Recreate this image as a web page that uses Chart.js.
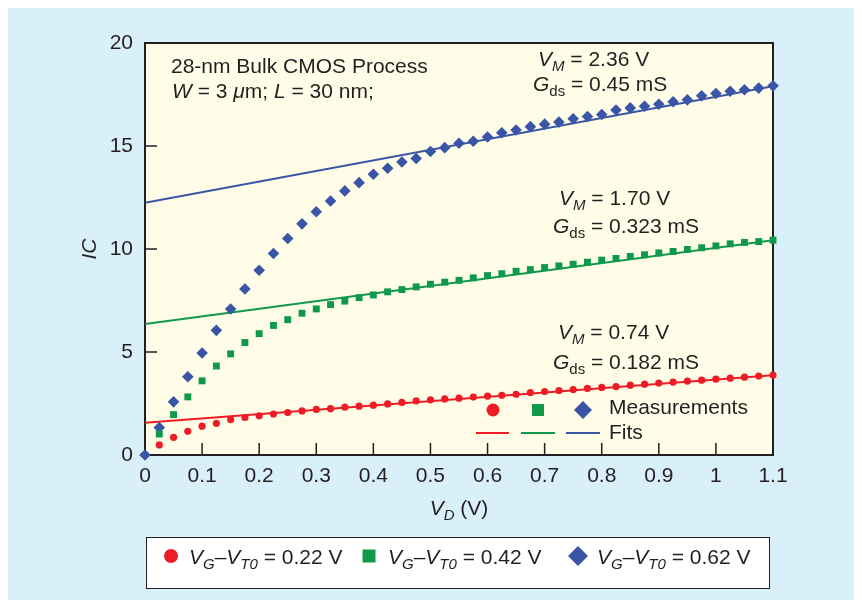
<!DOCTYPE html>
<html lang="en">
<head>
<meta charset="UTF-8">
<title>IC vs VD, 28-nm bulk CMOS</title>
<script src="https://cdn.jsdelivr.net/npm/chart.js"></script>
<style>
  html, body { margin: 0; padding: 0; background: #fff; }
  .wrap { position: relative; width: 862px; height: 608px; }
</style>
</head>
<body>
<div class="wrap"><canvas id="icChart"></canvas></div>
<script>
// drain voltage steps (V)
const vd = [0, 0.025, 0.05, 0.075, 0.1, 0.125, 0.15, 0.175, 0.2, 0.225, 0.25, 0.275, 0.3, 0.325,
  0.35, 0.375, 0.4, 0.425, 0.45, 0.475, 0.5, 0.525, 0.55, 0.575, 0.6, 0.625, 0.65, 0.675, 0.7,
  0.725, 0.75, 0.775, 0.8, 0.825, 0.85, 0.875, 0.9, 0.925, 0.95, 0.975, 1.0, 1.025, 1.05, 1.075, 1.1];

// measurements: red & green start at 0.025, blue at 0
const ic022 = [0.49, 0.86, 1.15, 1.40, 1.54, 1.72, 1.82, 1.90, 1.99, 2.06, 2.14, 2.21, 2.25, 2.32,
  2.37, 2.42, 2.48, 2.55, 2.63, 2.68, 2.72, 2.76, 2.81, 2.86, 2.90, 2.95, 3.03, 3.08, 3.13, 3.18,
  3.23, 3.28, 3.32, 3.39, 3.44, 3.49, 3.54, 3.59, 3.63, 3.68, 3.73, 3.78, 3.83, 3.88];
const ic042 = [1.02, 1.96, 2.82, 3.60, 4.32, 4.91, 5.46, 5.89, 6.29, 6.57, 6.88, 7.09, 7.30, 7.47,
  7.64, 7.77, 7.92, 8.03, 8.16, 8.29, 8.39, 8.48, 8.60, 8.71, 8.80, 8.92, 9.00, 9.10, 9.18, 9.26,
  9.36, 9.46, 9.54, 9.64, 9.72, 9.81, 9.88, 9.98, 10.06, 10.15, 10.25, 10.32, 10.36, 10.43];
const ic062 = [0, 1.33, 2.58, 3.80, 4.95, 6.05, 7.09, 8.06, 8.97, 9.78, 10.51, 11.22, 11.81, 12.33,
  12.82, 13.22, 13.63, 13.92, 14.22, 14.39, 14.73, 14.92, 15.13, 15.23, 15.44, 15.64, 15.78, 15.94,
  16.06, 16.16, 16.32, 16.43, 16.53, 16.75, 16.85, 16.93, 17.03, 17.15, 17.24, 17.44, 17.55, 17.66,
  17.73, 17.81, 17.92];

// fitted lines (end points)
const fitX = [0, 1.1];
const fit022 = [1.57, 3.87];
const fit042 = [6.36, 10.42];
const fit062 = [12.25, 17.9];

const xTickLabels = ['0', '0.1', '0.2', '0.3', '0.4', '0.5', '0.6', '0.7', '0.8', '0.9', '1', '1.1'];
const yTickLabels = ['0', '5', '10', '15', '20'];

const RED = '#ee1c25', GREEN = '#10994b', BLUE = '#3a55a5';
const INK = '#231f20';
const FONT = '"Liberation Sans", Arial, Helvetica, sans-serif';

function pts(xs, ys) {
  return ys.map((y, i) => ({ x: xs[i], y: y }));
}

// text with italics / subscripts, at baseline y
function drawRuns(ctx, runs, x, y, align) {
  const fontFor = s => (s.includes('i') ? 'italic ' : '') + (s.includes('s') ? 15 : 21) + 'px ' + FONT;
  let w = 0;
  runs.forEach(([t, s]) => { ctx.font = fontFor(s); w += ctx.measureText(t).width; });
  if (align === 'center') x -= w / 2;
  ctx.textAlign = 'left';
  ctx.textBaseline = 'alphabetic';
  runs.forEach(([t, s]) => {
    ctx.font = fontFor(s);
    ctx.fillText(t, x, y + (s.includes('s') ? 5 : 0));
    x += ctx.measureText(t).width;
  });
}

function marker(ctx, kind, x, y, r, color) {
  ctx.fillStyle = color;
  ctx.beginPath();
  if (kind === 'circle') ctx.arc(x, y, r, 0, Math.PI * 2);
  else if (kind === 'square') ctx.rect(x - r, y - r, 2 * r, 2 * r);
  else { ctx.moveTo(x - r, y); ctx.lineTo(x, y - r); ctx.lineTo(x + r, y); ctx.lineTo(x, y + r); ctx.closePath(); }
  ctx.fill();
}

const decor = {
  id: 'decor',
  beforeDraw(chart) {
    const ctx = chart.ctx, a = chart.chartArea;
    ctx.save();
    ctx.fillStyle = '#ffffff';
    ctx.fillRect(0, 0, chart.width, chart.height);
    ctx.fillStyle = '#d9eff9';
    ctx.fillRect(8, 8, 846, 592);
    ctx.fillStyle = '#fffde8';
    ctx.fillRect(a.left, a.top, a.right - a.left, a.bottom - a.top);
    ctx.restore();
  },
  beforeDatasetsDraw(chart) {
    const ctx = chart.ctx, a = chart.chartArea;
    const xs = chart.scales.x, ys = chart.scales.y;
    ctx.save();
    ctx.strokeStyle = INK;
    ctx.lineWidth = 1.5;
    ctx.beginPath();
    xs.ticks.forEach(t => {
      const px = xs.getPixelForValue(t.value);
      ctx.moveTo(px, a.bottom);
      ctx.lineTo(px, a.bottom - 12);
    });
    ys.ticks.forEach(t => {
      const py = ys.getPixelForValue(t.value);
      ctx.moveTo(a.left, py);
      ctx.lineTo(a.left + 12, py);
    });
    ctx.stroke();
    ctx.lineWidth = 2;
    ctx.strokeRect(a.left, a.top, a.right - a.left, a.bottom - a.top);
    ctx.restore();
  },
  afterDraw(chart) {
    const ctx = chart.ctx, a = chart.chartArea;
    ctx.save();
    ctx.fillStyle = INK;

    // axis titles
    drawRuns(ctx, [['V', 'i'], ['D', 'si'], [' (V)', '']], (a.left + a.right) / 2, 515, 'center');
    ctx.save();
    ctx.translate(96, (a.top + a.bottom) / 2);
    ctx.rotate(-Math.PI / 2);
    drawRuns(ctx, [['IC', 'i']], 0, 0, 'center');
    ctx.restore();

    // notes inside the plot
    drawRuns(ctx, [['28-nm Bulk CMOS Process', '']], 171, 73);
    drawRuns(ctx, [['W', 'i'], [' = 3 ', ''], ['\u03bc', 'i'], ['m; ', ''], ['L', 'i'], [' = 30 nm;', '']], 172, 98);

    drawRuns(ctx, [['V', 'i'], ['M', 'si'], [' = 2.36 V', '']], 538, 66);
    drawRuns(ctx, [['G', 'i'], ['ds', 's'], [' = 0.45 mS', '']], 533, 91);
    drawRuns(ctx, [['V', 'i'], ['M', 'si'], [' = 1.70 V', '']], 559, 205);
    drawRuns(ctx, [['G', 'i'], ['ds', 's'], [' = 0.323 mS', '']], 553, 233);
    drawRuns(ctx, [['V', 'i'], ['M', 'si'], [' = 0.74 V', '']], 558, 339);
    drawRuns(ctx, [['G', 'i'], ['ds', 's'], [' = 0.182 mS', '']], 553, 369);

    // inner key: measurements / fits
    marker(ctx, 'circle', 493, 410, 6.5, RED);
    marker(ctx, 'square', 538, 410, 6, GREEN);
    marker(ctx, 'diamond', 583, 410, 9, BLUE);
    ctx.lineWidth = 2;
    [[476, 509, RED], [521, 555, GREEN], [566, 600, BLUE]].forEach(([x1, x2, c]) => {
      ctx.strokeStyle = c;
      ctx.beginPath();
      ctx.moveTo(x1, 433);
      ctx.lineTo(x2, 433);
      ctx.stroke();
    });
    ctx.fillStyle = INK;
    drawRuns(ctx, [['Measurements', '']], 609, 414);
    drawRuns(ctx, [['Fits', '']], 609, 439);

    // bottom legend box
    ctx.fillStyle = '#ffffff';
    ctx.fillRect(146, 537, 623, 51);
    ctx.strokeStyle = INK;
    ctx.lineWidth = 1;
    ctx.strokeRect(146.5, 537.5, 623, 51);
    const items = [['circle', 171, 7, RED, '0.22', 189], ['square', 369, 6.5, GREEN, '0.42', 388], ['diamond', 578, 10, BLUE, '0.62', 597]];
    items.forEach(([k, mx, r, c, v, tx]) => {
      marker(ctx, k, mx, 556, r, c);
      ctx.fillStyle = INK;
      drawRuns(ctx, [['V', 'i'], ['G', 'si'], ['\u2013', ''], ['V', 'i'], ['T0', 'si'], [' = ' + v + ' V', '']], tx, 564);
    });
    ctx.restore();
  }
};

const tickFont = { family: FONT, size: 21 };

new Chart(document.getElementById('icChart'), {
  type: 'scatter',
  data: {
    datasets: [
      { label: 'VG-VT0 = 0.22 V', data: pts(vd.slice(1), ic022), pointStyle: 'circle', pointRadius: 3.6,
        backgroundColor: RED, borderWidth: 0, clip: false, order: 1 },
      { label: 'VG-VT0 = 0.42 V', data: pts(vd.slice(1), ic042), pointStyle: 'rect', pointRadius: 4.9,
        backgroundColor: GREEN, borderWidth: 0, clip: false, order: 1 },
      { label: 'VG-VT0 = 0.62 V', data: pts(vd, ic062), pointStyle: 'rectRot', pointRadius: 5.8,
        backgroundColor: BLUE, borderWidth: 0, clip: false, order: 1 },
      { label: 'fit 0.22', data: pts(fitX, fit022), showLine: true, pointRadius: 0, borderColor: RED, borderWidth: 2, order: 2 },
      { label: 'fit 0.42', data: pts(fitX, fit042), showLine: true, pointRadius: 0, borderColor: GREEN, borderWidth: 2, order: 2 },
      { label: 'fit 0.62', data: pts(fitX, fit062), showLine: true, pointRadius: 0, borderColor: BLUE, borderWidth: 2, order: 2 }
    ]
  },
  options: {
    responsive: true,
    maintainAspectRatio: false,
    animation: false,
    layout: { padding: { left: 0, top: 43, right: 89, bottom: 0 } },
    plugins: { legend: { display: false }, tooltip: { enabled: false } },
    scales: {
      x: {
        type: 'linear', min: 0, max: 1.1,
        afterFit: s => { s.height = 153; },
        grid: { display: false, drawTicks: false },
        border: { display: false },
        ticks: { stepSize: 0.1, padding: 9, color: INK, font: tickFont, maxRotation: 0, autoSkip: false,
          callback: (v, i) => xTickLabels[i] }
      },
      y: {
        type: 'linear', min: 0, max: 20,
        afterFit: s => { s.width = 145; },
        grid: { display: false, drawTicks: false },
        border: { display: false },
        ticks: { stepSize: 5, padding: 12, color: INK, font: tickFont,
          callback: (v, i) => yTickLabels[i] }
      }
    }
  },
  plugins: [decor]
});
</script>
</body>
</html>
